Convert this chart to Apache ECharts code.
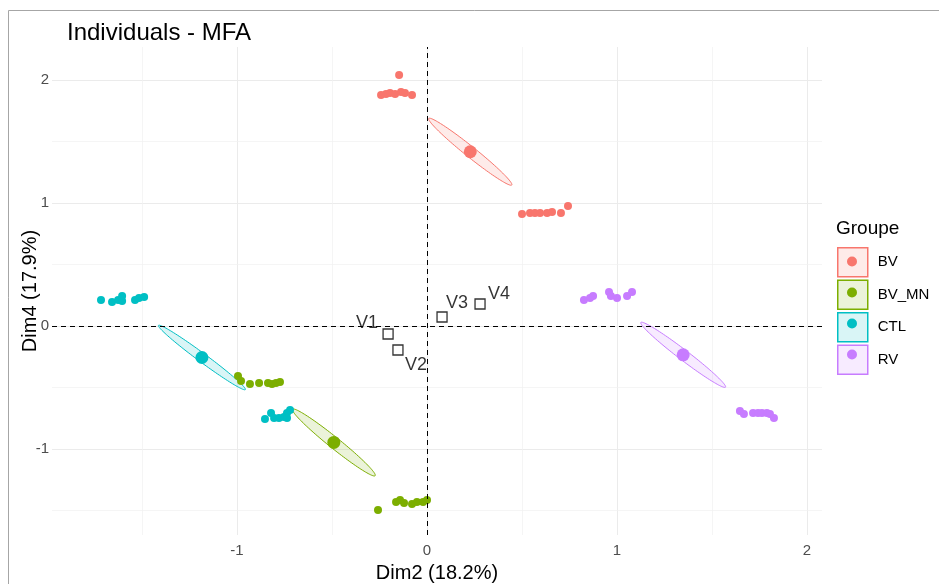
<!DOCTYPE html>
<html>
<head>
<meta charset="utf-8">
<script src="https://cdn.jsdelivr.net/npm/echarts@6/dist/echarts.min.js"></script>
<style>html,body{margin:0;padding:0;background:#fff}#c{width:939px;height:584px}</style>
</head>
<body>
<div id="c"></div>
<script>
// ---- data ----
const groups = ['BV', 'BV_MN', 'CTL', 'RV'];
const bvX = [-0.147,-0.242,-0.216,-0.195,-0.168,-0.137,-0.116,-0.079, 0.500,0.542,0.568,0.595,0.632,0.658,0.705,0.742];
const bvY = [2.040,1.878,1.886,1.894,1.886,1.902,1.894,1.878, 0.911,0.919,0.919,0.919,0.919,0.927,0.919,0.976];
const bvmnX = [-0.995,-0.979,-0.932,-0.884,-0.837,-0.816,-0.795,-0.774, -0.258,-0.163,-0.142,-0.121,-0.079,-0.053,-0.021,0.000];
const bvmnY = [-0.407,-0.447,-0.472,-0.463,-0.463,-0.472,-0.463,-0.455, -1.496,-1.431,-1.415,-1.439,-1.447,-1.431,-1.431,-1.415];
const ctlX = [-1.716,-1.658,-1.626,-1.605,-1.605,-1.537,-1.516,-1.489, -0.853,-0.821,-0.805,-0.779,-0.753,-0.737,-0.721,-0.737];
const ctlY = [0.211,0.195,0.211,0.244,0.203,0.211,0.228,0.236, -0.756,-0.707,-0.748,-0.748,-0.740,-0.707,-0.683,-0.748];
const rvX = [0.826,0.858,0.874,0.958,0.968,1.000,1.053,1.079, 1.647,1.668,1.716,1.742,1.763,1.789,1.805,1.826];
const rvY = [0.211,0.228,0.244,0.276,0.244,0.228,0.244,0.276, -0.691,-0.715,-0.707,-0.707,-0.707,-0.707,-0.715,-0.748];
const varNames = ['V1', 'V2', 'V3', 'V4'];
const varX = [-0.205, -0.153, 0.079, 0.279];
const varY = [-0.065, -0.195, 0.073, 0.179];
const xTicks = [-1, 0, 1, 2];
const yTicks = [-1, 0, 1, 2];
const xMinor = [-1.5, -0.5, 0.5, 1.5];
const yMinor = [-1.5, -0.5, 0.5, 1.5];

// ---- styles / layout ----
const colors = ['#F8766D', '#7CAE00', '#00BFC4', '#C77CFF'];
const fills = ['rgba(248,118,109,0.15)', 'rgba(124,174,0,0.15)', 'rgba(0,191,196,0.15)', 'rgba(199,124,255,0.15)'];
const varLabelOffsets = [[-21, -11], [18, 15], [15, -14], [19, -10]];
const X_MIN = -1.974, X_MAX = 2.079, Y_MIN = -1.699, Y_MAX = 2.268;
const FONT = '"Liberation Sans", Arial, sans-serif';
const CHI2_LEVEL = 4.605; // qchisq(0.90, 2)

const groupX = [bvX, bvmnX, ctlX, rvX];
const groupY = [bvY, bvmnY, ctlY, rvY];

function mean(a) { return a.reduce((s, v) => s + v, 0) / a.length; }
function variance(a) { const m = mean(a); return a.reduce((s, v) => s + (v - m) * (v - m), 0) / (a.length - 1); }
function cor(a, b) {
  const ma = mean(a), mb = mean(b);
  let s = 0; for (let i = 0; i < a.length; i++) s += (a[i] - ma) * (b[i] - mb);
  return s / (a.length - 1) / Math.sqrt(variance(a) * variance(b));
}
// confidence ellipse of the group mean (as ellipse::ellipse)
function ellipsePts(xs, ys) {
  const t = Math.sqrt(CHI2_LEVEL);
  const cx = mean(xs), cy = mean(ys);
  const sx = Math.sqrt(variance(xs) / xs.length), sy = Math.sqrt(variance(ys) / ys.length);
  const r = Math.min(Math.max(cor(xs, ys), -1), 1);
  const d = Math.acos(r);
  const pts = [];
  const n = 120;
  for (let i = 0; i < n; i++) {
    const a = 2 * Math.PI * i / (n - 1);
    pts.push([t * sx * Math.cos(a + d / 2) + cx, t * sy * Math.cos(a - d / 2) + cy]);
  }
  return pts;
}

const series = [];
series.push({
  type: 'scatter', name: '_grid', data: [], silent: true, z: 0,
  markLine: {
    z: 0, silent: true, symbol: ['none', 'none'], label: { show: false }, animation: false,
    lineStyle: { color: '#ebebeb', width: 1, type: 'solid' },
    data: [].concat(
      xTicks.map(v => ({ xAxis: v })), yTicks.map(v => ({ yAxis: v })),
      xMinor.map(v => ({ xAxis: v, lineStyle: { width: 0.7, color: '#f0f0f0' } })),
      yMinor.map(v => ({ yAxis: v, lineStyle: { width: 0.7, color: '#f0f0f0' } }))
    )
  }
});
series.push({
  type: 'scatter', name: '_zero', data: [], silent: true, z: 5,
  markLine: {
    z: 5, silent: true, symbol: ['none', 'none'], label: { show: false }, animation: false,
    lineStyle: { color: '#000', width: 1, type: [5, 4] },
    data: [{ xAxis: 0 }, { yAxis: 0 }]
  }
});

groups.forEach((g, gi) => {
  const xs = groupX[gi], ys = groupY[gi];
  const pts = ellipsePts(xs, ys);
  series.push({
    type: 'custom', name: g, z: 2, silent: true, clip: false,
    data: [[mean(xs), mean(ys)]],
    renderItem: function (params, api) {
      return {
        type: 'polygon',
        shape: { points: pts.map(p => api.coord(p)) },
        style: { fill: fills[gi], stroke: colors[gi], lineWidth: 1 }
      };
    }
  });
  series.push({
    type: 'scatter', name: g, z: 3, symbol: 'circle', symbolSize: 8, clip: false,
    itemStyle: { color: colors[gi], opacity: 1, borderWidth: 0 },
    emphasis: { disabled: true },
    data: xs.map((x, i) => [x, ys[i]])
  });
  series.push({
    type: 'scatter', name: g, z: 4, symbol: 'circle', symbolSize: 13, clip: false,
    itemStyle: { color: colors[gi], opacity: 1, borderWidth: 0 },
    emphasis: { disabled: true },
    data: [[mean(xs), mean(ys)]]
  });
});

series.push({
  type: 'scatter', name: '_vars', z: 6, symbol: 'rect', symbolSize: 10, clip: false,
  itemStyle: { color: '#fff', borderColor: '#000', borderWidth: 1.3 },
  emphasis: { disabled: true },
  data: varNames.map((n, i) => ({
    name: n, value: [varX[i], varY[i]],
    label: { offset: varLabelOffsets[i] }
  })),
  label: { show: true, position: 'inside', formatter: '{b}', fontSize: 18, color: '#000', fontFamily: FONT }
});

const option = {
  animation: false,
  backgroundColor: '#fff',
  textStyle: { fontFamily: FONT },
  title: [
    { text: 'Individuals - MFA', left: 67, top: 21, padding: 0, textStyle: { fontSize: 24, fontWeight: 'normal', color: '#000', fontFamily: FONT } },
    { text: 'Groupe', left: 836, top: 219, padding: 0, textStyle: { fontSize: 19, fontWeight: 'normal', color: '#000', fontFamily: FONT } }
  ],
  grid: { left: 52, right: 117, top: 47, bottom: 49, containLabel: false, outerBoundsMode: 'none' },
  xAxis: {
    type: 'value', min: X_MIN, max: X_MAX,
    name: 'Dim2 (18.2%)', nameLocation: 'middle', nameGap: 28, nameMoveOverlap: false,
    nameTextStyle: { fontSize: 20, color: '#000', fontFamily: FONT },
    axisLine: { show: false }, axisTick: { show: false }, splitLine: { show: false },
    axisLabel: { customValues: xTicks, color: '#4d4d4d', fontSize: 15, margin: 8, fontFamily: FONT }
  },
  yAxis: {
    type: 'value', min: Y_MIN, max: Y_MAX,
    name: 'Dim4 (17.9%)', nameLocation: 'middle', nameGap: 12, nameMoveOverlap: false,
    nameTextStyle: { fontSize: 20, color: '#000', fontFamily: FONT },
    axisLine: { show: false }, axisTick: { show: false }, splitLine: { show: false },
    axisLabel: { customValues: yTicks, color: '#4d4d4d', fontSize: 15, margin: 3, fontFamily: FONT }
  },
  legend: [
    {
      orient: 'vertical', left: 837, top: 247, padding: 0, itemGap: 2,
      itemWidth: 30, itemHeight: 29, selectedMode: false,
      textStyle: { fontSize: 15, color: '#000', padding: [0, 0, 0, 5], fontFamily: FONT },
      data: groups.map((g, gi) => ({ name: g, icon: 'rect', itemStyle: { color: fills[gi], borderColor: colors[gi], borderWidth: 1.5 } }))
    },
    {
      orient: 'vertical', left: 847, top: 247, padding: 0, itemGap: 2,
      itemWidth: 10, itemHeight: 29, selectedMode: false,
      formatter: function () { return ' '; },
      textStyle: { fontSize: 10, lineHeight: 29, height: 29 },
      data: groups.map((g, gi) => ({ name: g, icon: 'circle', itemStyle: { color: colors[gi], borderWidth: 0 } }))
    }
  ],
  graphic: [
    { type: 'rect', silent: true, shape: { x: 8.5, y: 10.5, width: 1000, height: 1000 }, style: { fill: 'none', stroke: '#a6a6a6', lineWidth: 1 }, z: 100 }
  ],
  series: series
};

const chart = echarts.init(document.getElementById('c'), null, { renderer: 'canvas' });
chart.setOption(option);
</script>
</body>
</html>
